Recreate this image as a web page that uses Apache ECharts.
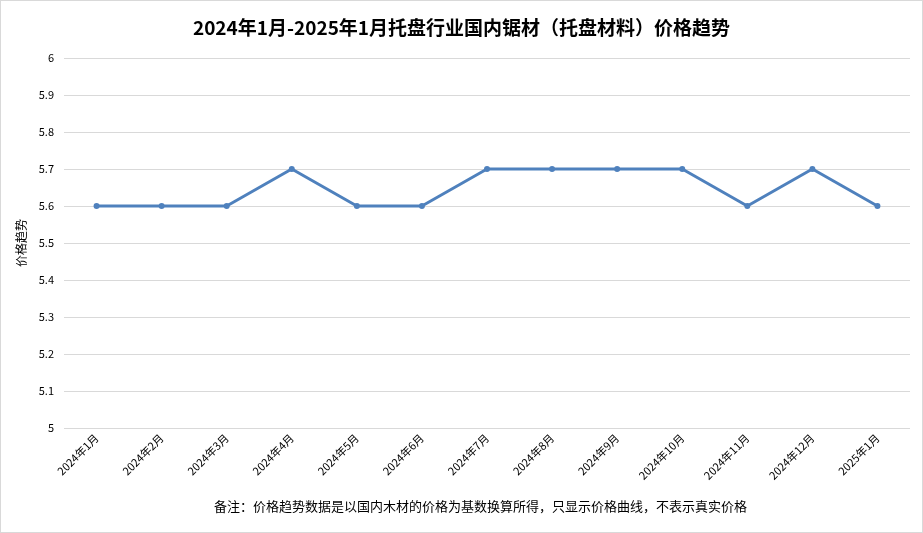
<!DOCTYPE html>
<html style="height:100%">
<head>
    <meta charset="utf-8">
    <title>托盘价格趋势</title>
<script src="https://cdn.jsdelivr.net/npm/echarts@6/dist/echarts.min.js"></script>
</head>
<body style="height:100%;width:100%;margin:0;">
    <div id="main" style="width:921px;height:531px;margin:0;border:1px solid #d9d9d9"></div>
    <script type="text/javascript">
        var months = ['2024年1月', '2024年2月', '2024年3月', '2024年4月', '2024年5月', '2024年6月', '2024年7月',
            '2024年8月', '2024年9月', '2024年10月', '2024年11月', '2024年12月', '2025年1月'];
        var prices = [5.6, 5.6, 5.6, 5.7, 5.6, 5.6, 5.7, 5.7, 5.7, 5.7, 5.6, 5.7, 5.6];
        var titleText = '2024年1月-2025年1月托盘行业国内锯材（托盘材料）价格趋势';
        var noteText = '备注：价格趋势数据是以国内木材的价格为基数换算所得，只显示价格曲线，不表示真实价格';

        var font = '"Microsoft YaHei", "Noto Sans CJK SC", sans-serif';
        var myChart = echarts.init(document.getElementById('main'));
        myChart.setOption({
            animation: false,
            textStyle: { fontFamily: font },
            title: [{
                text: titleText,
                left: 'center',
                top: 12,
                textStyle: { fontSize: 19, fontWeight: 'bold', color: '#000', fontFamily: font }
            }, {
                text: noteText,
                left: 208,
                top: 494,
                textStyle: { fontSize: 13, fontWeight: 'normal', color: '#000', fontFamily: font }
            }],
            grid: { left: 63, right: 12, top: 57, bottom: 104, containLabel: false },
            xAxis: {
                type: 'category',
                data: months,
                boundaryGap: true,
                axisLine: { show: false },
                axisTick: { show: false },
                axisLabel: { rotate: 45, fontSize: 11, color: '#000', margin: 8, interval: 0 }
            },
            yAxis: {
                type: 'value',
                min: 5,
                max: 6,
                interval: 0.1,
                name: '价格趋势',
                nameLocation: 'middle',
                nameGap: 20,
                nameTextStyle: { fontSize: 12, color: '#000' },
                axisLine: { show: false },
                axisTick: { show: false },
                axisLabel: {
                    fontSize: 11, color: '#000', margin: 10,
                    formatter: function (v) { return +v.toFixed(1) + ''; }
                },
                splitLine: { lineStyle: { color: '#d9d9d9', width: 1 } }
            },
            series: [{
                type: 'line',
                data: prices,
                symbol: 'circle',
                symbolSize: 6,
                lineStyle: { color: '#4f81bd', width: 3 },
                itemStyle: { color: '#4f81bd' }
            }]
        });
    </script>
</body>
</html>
